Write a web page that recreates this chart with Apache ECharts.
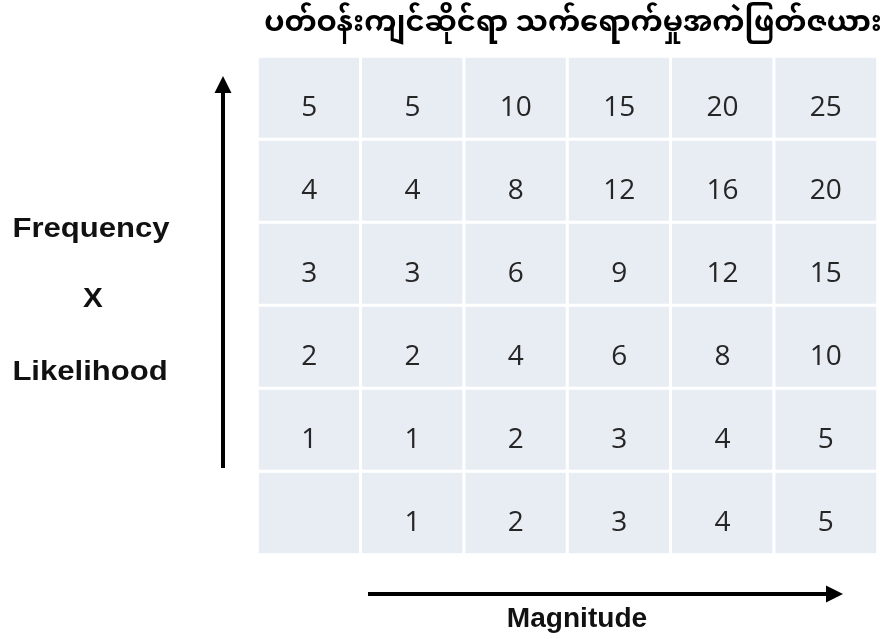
<!DOCTYPE html>
<html>
<head>
<meta charset="utf-8">
<script src="https://cdn.jsdelivr.net/npm/echarts@6/dist/echarts.min.js"></script>
<style>
  html, body { margin: 0; padding: 0; background: #fff; }
  #chart { width: 892px; height: 639px; }
</style>
</head>
<body>
<div id="chart"></div>
<script>
// matrix data, rows listed top -> bottom, null = empty cell
var titleText = 'ပတ်ဝန်းကျင်ဆိုင်ရာ သက်ရောက်မှုအကဲဖြတ်ဇယား';
var colLabels = ['', '1', '2', '3', '4', '5'];
var rowLabels = ['5', '4', '3', '2', '1', ''];
var row5 = [5, 5, 10, 15, 20, 25];
var row4 = [4, 4, 8, 12, 16, 20];
var row3 = [3, 3, 6, 9, 12, 15];
var row2 = [2, 2, 4, 6, 8, 10];
var row1 = [1, 1, 2, 3, 4, 5];
var row0 = [null, 1, 2, 3, 4, 5];
var rows = [row5, row4, row3, row2, row1, row0];
var yLabel = ['Frequency', 'X', 'Likelihood'];
var xLabel = 'Magnitude';

var cells = [];
rows.forEach(function (r, ri) {
  r.forEach(function (v, ci) {
    cells.push({
      value: [ci, ri, v === null ? 0 : v],
      label: { show: v !== null }
    });
  });
});

var chart = echarts.init(document.getElementById('chart'));
var boldFont = 'bold 27px "Liberation Sans", Arial, sans-serif';

function sideText(txt, x, y, sx) {
  return {
    type: 'text', x: x, y: y, scaleX: sx,
    style: { text: txt, x: 0, y: 0, align: 'center', verticalAlign: 'middle',
      font: boldFont, fill: '#111' }
  };
}

chart.setOption({
  animation: false,
  grid: { left: 257.5, top: 56.5, width: 620, height: 498 },
  xAxis: { type: 'category', data: colLabels, show: false },
  yAxis: { type: 'category', data: rowLabels, inverse: true, show: false },
  series: [{
    type: 'heatmap',
    data: cells,
    itemStyle: { color: '#e8ecf3', borderColor: '#ffffff', borderWidth: 3 },
    label: {
      show: true,
      formatter: function (p) { return p.value[2]; },
      color: '#262626',
      fontSize: 28,
      fontFamily: '"Open Sans", "Noto Sans", sans-serif',
      offset: [0, 10]
    },
    emphasis: { disabled: true }
  }],
  graphic: [
    {
      type: 'text',
      style: {
        text: titleText, x: 573, y: 28, align: 'center', verticalAlign: 'middle',
        font: 'bold 29px "Noto Sans Myanmar", Padauk, "Myanmar Text", sans-serif',
        fill: '#000'
      }
    },
    sideText(yLabel[0], 91, 230, 1.15),
    sideText(yLabel[1], 93, 300, 1.1),
    sideText(yLabel[2], 90, 373, 1.15),
    sideText(xLabel, 577, 620, 1.04),
    // vertical arrow
    {
      type: 'line',
      shape: { x1: 223, y1: 468, x2: 223, y2: 90 },
      style: { stroke: '#000', lineWidth: 4 }
    },
    {
      type: 'polygon',
      shape: { points: [[223, 76], [214.5, 93], [231.5, 93]] },
      style: { fill: '#000' }
    },
    // horizontal arrow
    {
      type: 'line',
      shape: { x1: 368, y1: 594, x2: 830, y2: 594 },
      style: { stroke: '#000', lineWidth: 4 }
    },
    {
      type: 'polygon',
      shape: { points: [[843, 594], [826, 585.5], [826, 602.5]] },
      style: { fill: '#000' }
    }
  ]
});
</script>
</body>
</html>
